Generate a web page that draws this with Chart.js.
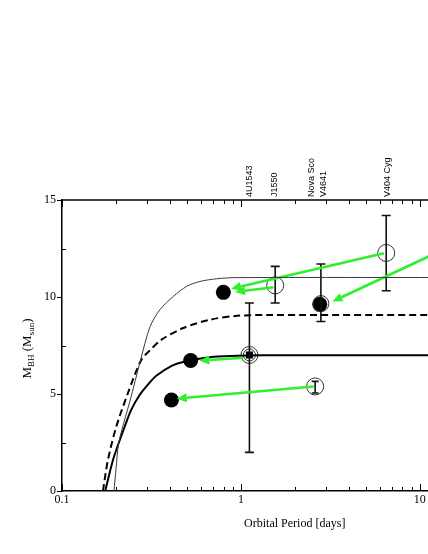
<!DOCTYPE html>
<html>
<head>
<meta charset="utf-8">
<script src="https://cdn.jsdelivr.net/npm/chart.js@4"></script>
<style>
  html, body { margin: 0; padding: 0; background: #fff; overflow: hidden; }
  canvas { display: block; }
</style>
</head>
<body>
<canvas id="massChart" width="537" height="554"></canvas>
<script>
// model curves (period in days, mass in Msun)
const thinX = [0.1951, 0.201, 0.2073, 0.2265, 0.2397, 0.275, 0.31, 0.353, 0.419, 0.498, 0.59, 0.733, 0.95, 40];
const thinY = [0, 1.25, 2.46, 3.83, 4.63, 6.75, 8.45, 9.35, 10.03, 10.55, 10.8, 10.94, 11.0, 11.0];
const dashX = [0.1694, 0.1806, 0.201, 0.2336, 0.2772, 0.31, 0.36, 0.476, 0.672, 0.95, 1.4, 40];
const dashY = [0, 1.6, 3.31, 5.04, 6.75, 7.25, 7.8, 8.4, 8.83, 9.03, 9.07, 9.07];
const thickX = [0.1744, 0.1927, 0.2073, 0.2239, 0.2437, 0.2715, 0.303, 0.338, 0.41, 0.476, 0.672, 0.95, 1.3, 40];
const thickY = [0, 1.6, 2.46, 3.31, 4.18, 4.95, 5.5, 5.95, 6.45, 6.65, 6.9, 6.97, 7.0, 7.0];

// measured systems (open circles) and shifted positions (filled)
const openX = [1.116, 1.116, 1.555, 2.80, 6.49, 2.60];
const openY = [7.01, 7.01, 10.6, 9.66, 12.27, 5.39];
const openR = [8.5, 6, 8.5, 8, 8.5, 8.5];
const squareX = [1.116];
const squareY = [7.01];
const filledX = [0.798, 0.524, 0.409, 2.76];
const filledY = [10.24, 6.73, 4.69, 9.62];

// error bars
const errX = [1.116, 1.555, 2.80, 6.49, 2.60];
const errLo = [1.99, 9.69, 8.74, 10.32, 5.05];
const errHi = [9.69, 11.58, 11.7, 14.2, 5.65];
const errCap = [9, 9, 9, 9, 7];

// green arrows: start -> end
const arrowFromX = [6.3, 1.52, 16, 1.03, 2.55];
const arrowFromY = [12.25, 10.5, 12.76, 6.87, 5.39];
const arrowToX = [0.881, 0.928, 3.25, 0.586, 0.438];
const arrowToY = [10.43, 10.26, 9.77, 6.72, 4.76];

// labels above the plot
const topLabelX = [1.1, 1.52, 2.65, 6.5];
const topLabels = [["4U1543"], ["J1550"], ["Nova Sco", "V4641"], ["V404 Cyg"]];

const xTicks = [0.1, 1, 10];

const pts = (xs, ys) => xs.map((x, i) => ({ x: x, y: ys[i] }));

const overlay = {
  id: "overlay",
  afterDatasetDraw(chart, args) {
    if (args.index !== 2) return;
    const ctx = chart.ctx;
    const x = chart.scales.x;
    const y = chart.scales.y;
    ctx.save();
    // error bars
    ctx.strokeStyle = "#111";
    ctx.lineWidth = 1.6;
    errX.forEach((v, i) => {
      const px = x.getPixelForValue(v);
      const p1 = y.getPixelForValue(errLo[i]);
      const p2 = y.getPixelForValue(errHi[i]);
      const c = errCap[i] / 2;
      ctx.beginPath();
      ctx.moveTo(px, p1); ctx.lineTo(px, p2);
      ctx.moveTo(px - c, p1); ctx.lineTo(px + c, p1);
      ctx.moveTo(px - c, p2); ctx.lineTo(px + c, p2);
      ctx.stroke();
    });
    // arrows
    ctx.strokeStyle = "#2ef02e";
    ctx.fillStyle = "#2ef02e";
    ctx.lineWidth = 2.6;
    arrowFromX.forEach((v, i) => {
      const x1 = x.getPixelForValue(v), y1 = y.getPixelForValue(arrowFromY[i]);
      const x2 = x.getPixelForValue(arrowToX[i]), y2 = y.getPixelForValue(arrowToY[i]);
      const a = Math.atan2(y2 - y1, x2 - x1);
      const hl = 10, hw = 4.5;
      const bx = x2 - hl * Math.cos(a), by = y2 - hl * Math.sin(a);
      ctx.beginPath();
      ctx.moveTo(x1, y1); ctx.lineTo(bx, by);
      ctx.stroke();
      ctx.beginPath();
      ctx.moveTo(x2, y2);
      ctx.lineTo(bx + hw * Math.sin(a), by - hw * Math.cos(a));
      ctx.lineTo(bx - hw * Math.sin(a), by + hw * Math.cos(a));
      ctx.closePath();
      ctx.fill();
    });
    ctx.restore();
  },
  afterDraw(chart) {
    const ctx = chart.ctx;
    const area = chart.chartArea;
    const x = chart.scales.x;
    const y = chart.scales.y;
    ctx.save();
    ctx.strokeStyle = "#000";
    ctx.lineWidth = 1.5;
    ctx.beginPath();
    ctx.moveTo(area.left, area.top);
    ctx.lineTo(area.right, area.top);
    ctx.stroke();

    // inside ticks on bottom and top
    ctx.lineWidth = 1;
    ctx.beginPath();
    for (let d = 0.1; d < 40; d *= 10) {
      for (let m = 1; m <= 9; m++) {
        const v = d * m;
        if (v > 40) break;
        const px = Math.round(x.getPixelForValue(v)) + 0.5;
        const len = m === 1 ? 7 : 4;
        ctx.moveTo(px, area.bottom); ctx.lineTo(px, area.bottom - len);
        ctx.moveTo(px, area.top); ctx.lineTo(px, area.top + len);
      }
    }
    [2.5, 7.5, 12.5].forEach(v => {
      const py = Math.round(y.getPixelForValue(v)) + 0.5;
      ctx.moveTo(area.left, py); ctx.lineTo(area.left + 4, py);
    });
    ctx.stroke();

    // top labels
    ctx.fillStyle = "#000";
    ctx.font = "9px 'Liberation Sans', Arial, sans-serif";
    ctx.textAlign = "left";
    ctx.textBaseline = "middle";
    topLabelX.forEach((v, i) => {
      const px = x.getPixelForValue(v);
      const lines = topLabels[i];
      lines.forEach((t, j) => {
        const off = (j - (lines.length - 1) / 2) * 12 + 1;
        ctx.save();
        ctx.translate(px + off, area.top - 3);
        ctx.rotate(-Math.PI / 2);
        ctx.fillText(t, 0, 0);
        ctx.restore();
      });
    });

    // y-axis title with subscripts
    const parts = [
      ["M", 13, 0], ["BH", 9, 3], [" (M", 13, 0], ["sun", 9, 3], [")", 13, 0]
    ];
    const fam = "'Liberation Serif', 'Times New Roman', serif";
    let total = 0;
    parts.forEach(p => { ctx.font = p[1] + "px " + fam; total += ctx.measureText(p[0]).width; });
    ctx.save();
    ctx.translate(31, (area.top + area.bottom) / 2 + 3);
    ctx.rotate(-Math.PI / 2);
    ctx.textBaseline = "alphabetic";
    let cx = -total / 2;
    parts.forEach(p => {
      ctx.font = p[1] + "px " + fam;
      ctx.fillText(p[0], cx, p[2]);
      cx += ctx.measureText(p[0]).width;
    });
    ctx.restore();
    ctx.restore();
  }
};

new Chart(document.getElementById("massChart").getContext("2d"), {
  type: "scatter",
  data: {
    datasets: [
      {
        data: pts(thinX, thinY),
        showLine: true,
        borderColor: "#3a3a3a",
        borderWidth: 1,
        pointRadius: 0,
        tension: 0.3,
      },
      {
        data: pts(dashX, dashY),
        showLine: true,
        borderColor: "#000",
        borderWidth: 2,
        borderDash: [7, 4],
        pointRadius: 0,
        tension: 0.3,
      },
      {
        data: pts(thickX, thickY),
        showLine: true,
        borderColor: "#000",
        borderWidth: 2,
        pointRadius: 0,
        tension: 0.3,
      },
      {
        data: pts(openX, openY),
        pointRadius: openR,
        pointBackgroundColor: "rgba(0,0,0,0)",
        pointBorderColor: "#333",
        pointBorderWidth: 1,
      },
      {
        data: pts(squareX, squareY),
        pointStyle: "rect",
        pointRadius: 5,
        pointBackgroundColor: "#000",
        pointBorderColor: "#000",
        pointBorderWidth: 0,
      },
      {
        data: pts(filledX, filledY),
        pointRadius: 7.5,
        pointBackgroundColor: "#000",
        pointBorderColor: "#000",
        pointBorderWidth: 0,
      },
    ],
  },
  options: {
    responsive: false,
    animation: false,
    layout: { padding: { top: 200, left: 0, right: 0, bottom: 0 } },
    plugins: {
      legend: { display: false },
      tooltip: { enabled: false },
    },
    scales: {
      x: {
        type: "logarithmic",
        min: 0.1,
        max: 40,
        afterBuildTicks: (scale) => {
          scale.ticks = xTicks.map(v => ({ value: v }));
        },
        afterFit: (scale) => { scale.height = 63; },
        ticks: {
          autoSkip: false,
          maxRotation: 0,
          padding: 2,
          color: "#000",
          font: { family: "'Liberation Serif', 'Times New Roman', serif", size: 12 },
          callback: (v) => String(v),
        },
        grid: { display: false, drawTicks: false },
        border: { display: true, color: "#000", width: 1.5 },
        title: {
          display: true,
          text: "Orbital Period [days]",
          color: "#000",
          font: { family: "'Liberation Serif', 'Times New Roman', serif", size: 12 },
          padding: { top: 0, bottom: 23 },
        },
      },
      y: {
        min: 0,
        max: 15,
        afterFit: (scale) => { scale.width = 62; },
        ticks: {
          stepSize: 5,
          padding: 1,
          color: "#000",
          font: { family: "'Liberation Serif', 'Times New Roman', serif", size: 12 },
        },
        grid: { drawOnChartArea: false, drawTicks: true, tickLength: 5, color: "#000" },
        border: { display: true, color: "#000", width: 1.5 },
      },
    },
  },
  plugins: [overlay],
});
</script>
</body>
</html>
